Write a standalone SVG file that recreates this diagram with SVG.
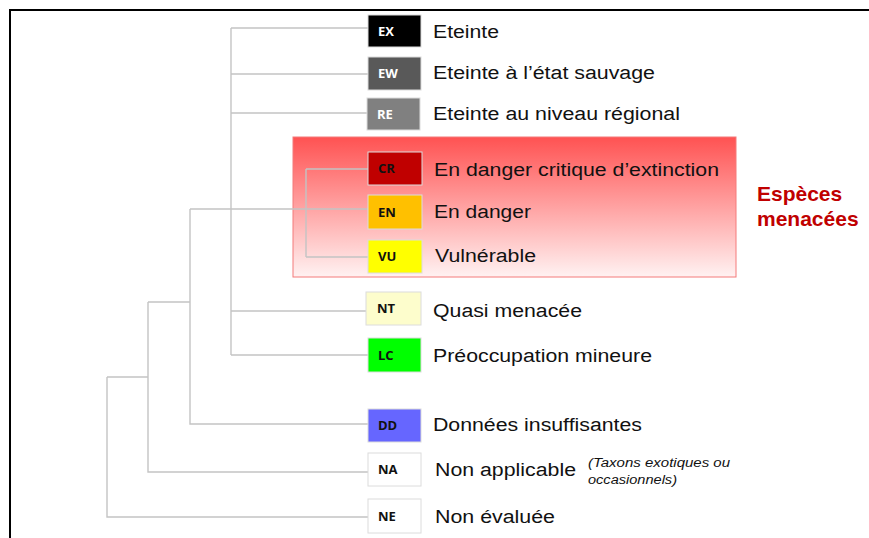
<svg xmlns="http://www.w3.org/2000/svg" width="869" height="538" viewBox="0 0 869 538">
<defs>
<linearGradient id="redgrad" x1="0" y1="0" x2="0" y2="1">
<stop offset="0" stop-color="#ff5252"/>
<stop offset="1" stop-color="#fff2f2"/>
</linearGradient>
<style>
.lbl{font-family:"Liberation Sans",Arial,sans-serif;font-size:18px;fill:#111}
.ab{font-family:"Open Sans","Liberation Sans",sans-serif;font-size:13px;font-weight:bold;fill:#111}
.abw{fill:#ffffff}
.box{stroke:#dcdcdc;stroke-width:1}
.con{fill:none;stroke:#c4c4c4;stroke-width:1.4}
.note{font-family:"Liberation Sans",Arial,sans-serif;font-size:12.5px;font-style:italic;fill:#111}
.title{font-family:"Liberation Sans",Arial,sans-serif;font-size:21px;font-weight:bold;fill:#c00000}
</style>
</defs>
<rect width="869" height="538" fill="#ffffff"/>
<path d="M10,538 V10 H869" fill="none" stroke="#000" stroke-width="2"/>

<g id="threatened-zone">
<rect x="293" y="137" width="443" height="140" fill="url(#redgrad)" stroke="#f47a7a" stroke-width="1"/>
<text class="title" x="757" y="201">Espèces</text>
<text class="title" x="757" y="226">menacées</text>
</g>

<g id="connectors">
<path class="con" d="M231,28 V355"/>
<path class="con" d="M231,28 H368 M231,74 H368 M231,113 H368 M231,311 H366 M231,355 H368"/>
<path class="con" d="M306,169 V257 M306,169 H368 M306,257 H368"/>
<path class="con" d="M190,209 H368 M190,209 V424 H368"/>
<path class="con" d="M148,302 H190 M148,302 V472 H368"/>
<path class="con" d="M107,377 H148 M107,377 V517 H368"/>
</g>

<g id="EX">
<rect class="box" x="368" y="15" width="53" height="32" fill="#000000"/>
<text class="ab abw" x="378" y="36">EX</text>
<text class="lbl" x="433" y="38" textLength="66" lengthAdjust="spacingAndGlyphs">Eteinte</text>
</g>
<g id="EW">
<rect class="box" x="368" y="57" width="53" height="33" fill="#595959"/>
<text class="ab abw" x="378" y="78">EW</text>
<text class="lbl" x="433" y="79" textLength="222" lengthAdjust="spacingAndGlyphs">Eteinte à l’état sauvage</text>
</g>
<g id="RE">
<rect class="box" x="367" y="98" width="53" height="32" fill="#808080"/>
<text class="ab abw" x="377" y="119">RE</text>
<text class="lbl" x="433" y="120" textLength="247" lengthAdjust="spacingAndGlyphs">Eteinte au niveau régional</text>
</g>
<g id="CR">
<rect class="box" x="368" y="152" width="54" height="33" fill="#c00000"/>
<text class="ab" x="378" y="173">CR</text>
<text class="lbl" x="434" y="176" textLength="285" lengthAdjust="spacingAndGlyphs">En danger critique d’extinction</text>
</g>
<g id="EN">
<rect class="box" x="368" y="195" width="54" height="34" fill="#ffc000"/>
<text class="ab" x="378" y="217">EN</text>
<text class="lbl" x="434" y="218" textLength="97" lengthAdjust="spacingAndGlyphs">En danger</text>
</g>
<g id="VU">
<rect class="box" x="368" y="240" width="54" height="33" fill="#ffff00"/>
<text class="ab" x="378" y="261">VU</text>
<text class="lbl" x="435" y="262" textLength="101" lengthAdjust="spacingAndGlyphs">Vulnérable</text>
</g>
<g id="NT">
<rect class="box" x="366" y="292" width="55" height="33" fill="#fdfdcc"/>
<text class="ab" x="377" y="313">NT</text>
<text class="lbl" x="433" y="317" textLength="149" lengthAdjust="spacingAndGlyphs">Quasi menacée</text>
</g>
<g id="LC">
<rect class="box" x="368" y="338" width="53" height="34" fill="#00ff00"/>
<text class="ab" x="378" y="360">LC</text>
<text class="lbl" x="433" y="362" textLength="219" lengthAdjust="spacingAndGlyphs">Préoccupation mineure</text>
</g>
<g id="DD">
<rect class="box" x="368" y="409" width="53" height="33" fill="#6666ff"/>
<text class="ab" x="378" y="430">DD</text>
<text class="lbl" x="433" y="431" textLength="209" lengthAdjust="spacingAndGlyphs">Données insuffisantes</text>
</g>
<g id="NA">
<rect class="box" x="368" y="453" width="53" height="33" fill="#ffffff"/>
<text class="ab" x="378" y="474">NA</text>
<text class="lbl" x="435" y="476" textLength="141" lengthAdjust="spacingAndGlyphs">Non applicable</text>
<text class="note" x="588" y="467" textLength="142" lengthAdjust="spacingAndGlyphs">(Taxons exotiques ou</text>
<text class="note" x="588" y="484" textLength="89" lengthAdjust="spacingAndGlyphs">occasionnels)</text>
</g>
<g id="NE">
<rect class="box" x="368" y="499" width="53" height="34" fill="#ffffff"/>
<text class="ab" x="378" y="521">NE</text>
<text class="lbl" x="435" y="523" textLength="120" lengthAdjust="spacingAndGlyphs">Non évaluée</text>
</g>
</svg>
